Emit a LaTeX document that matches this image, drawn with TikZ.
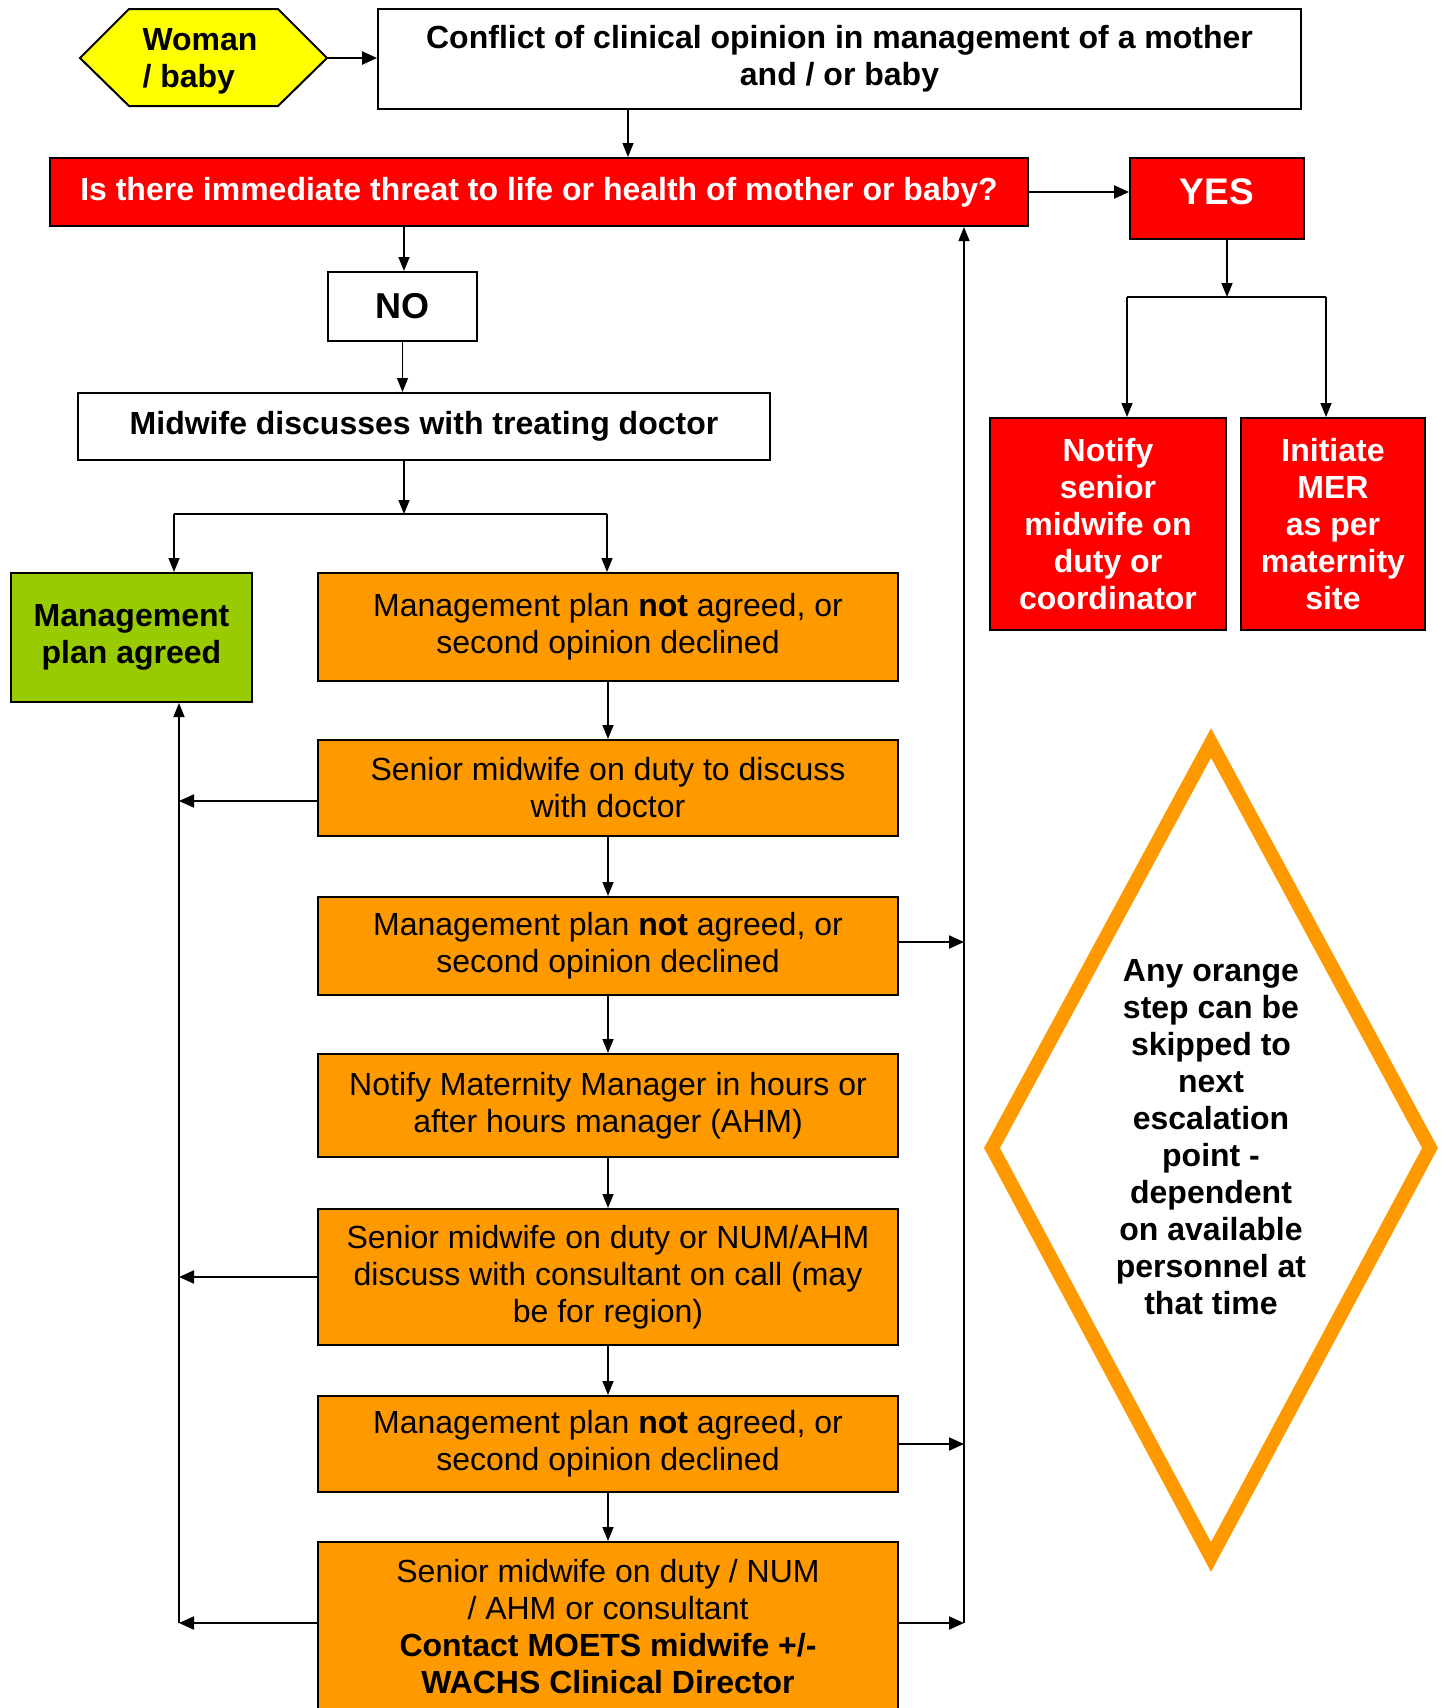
\documentclass[tikz,border=0pt]{standalone}
\usepackage{fontspec}
\setmainfont{Liberation Sans}
\usetikzlibrary{arrows.meta}
\definecolor{cyel}{HTML}{FFFF00}
\definecolor{cred}{HTML}{FF0000}
\definecolor{cgreen}{HTML}{99CC00}
\definecolor{corange}{HTML}{FF9900}
\newcommand{\fs}{\fontsize{32}{37}\selectfont}
\begin{document}
\begin{tikzpicture}[x=1pt,y=-1pt,
  base/.style={draw=black, line width=2pt, inner sep=0pt, align=center, font=\fs},
  whitebox/.style={base, fill=white, font=\bfseries\fs},
  redbox/.style={base, fill=cred, text=white, font=\bfseries\fs},
  orangebox/.style={base, fill=corange, minimum width=580pt},
  greenbox/.style={base, fill=cgreen, font=\bfseries\fs},
  arr/.style={-{Triangle[length=14pt,width=11pt]}, line width=1.5pt},
  medarr/.style={-{Triangle[length=15pt,width=13pt]}, line width=2pt},
  thickarr/.style={-{Triangle[length=15pt,width=13pt]}, line width=2.5pt},
  plain/.style={line width=1.5pt}]
\useasboundingbox (0,0) rectangle (1447,1708);
\clip (0,0) rectangle (1447,1708);
\fill[white] (0,0) rectangle (1447,1708);

% hexagon
\draw[fill=cyel, line width=2pt] (80,58) -- (129,9) -- (278,9) -- (327,58) -- (278,106) -- (129,106) -- cycle;
\coordinate (hexR) at (327,58);
\node[font=\bfseries\fs, align=left, inner sep=0pt] (woman) at (200,61) {Woman\\/ baby};

\node[whitebox, minimum width=923pt, minimum height=100pt] (conflict) at (839.5,59)
  {Conflict of clinical opinion in management of a mother\\and / or baby};
\node[redbox, minimum width=978pt, minimum height=68pt] (question) at (539,192)
  {Is there immediate threat to life or health of mother or baby?};
\node[redbox, minimum width=174pt, minimum height=81pt, font=\bfseries\fontsize{37}{40}\selectfont, text depth=13pt] (yes) at (1217,198.5) {YES};
\node[whitebox, minimum width=149pt, minimum height=69pt, font=\bfseries\fontsize{36}{40}\selectfont] (no) at (402.5,306.5) {NO};
\node[whitebox, minimum width=692pt, minimum height=67pt] (midwife) at (424,426.5)
  {Midwife discusses with treating doctor};
\node[greenbox, minimum width=241pt, minimum height=129pt] (green) at (131.5,637.5)
  {Management\\plan agreed};

\node[orangebox, minimum height=108pt] (o1) at (608,627)
  {Management plan \textbf{not} agreed, or\\second opinion declined};
\node[orangebox, minimum height=96pt] (o2) at (608,788)
  {Senior midwife on duty to discuss\\with doctor};
\node[orangebox, minimum height=98pt] (o3) at (608,946)
  {Management plan \textbf{not} agreed, or\\second opinion declined};
\node[orangebox, minimum height=103pt] (o4) at (608,1105.5)
  {Notify Maternity Manager in hours or\\after hours manager (AHM)};
\node[orangebox, minimum height=136pt] (o5) at (608,1277)
  {Senior midwife on duty or NUM/AHM\\discuss with consultant on call (may\\be for region)};
\node[orangebox, minimum height=96pt] (o6) at (608,1444)
  {Management plan \textbf{not} agreed, or\\second opinion declined};
\node[orangebox, minimum height=170pt] (o7) at (608,1627)
  {Senior midwife on duty / NUM\\/ AHM or consultant\\\textbf{Contact MOETS midwife +/-}\\\textbf{WACHS Clinical Director}};

\node[redbox, minimum width=236pt, minimum height=212pt] (notify) at (1108,524)
  {Notify\\senior\\midwife on\\duty or\\coordinator};
\node[redbox, minimum width=184pt, minimum height=212pt] (initiate) at (1333,524)
  {Initiate\\MER\\as per\\maternity\\site};

% diamond
\draw[corange, line width=14pt, miter limit=10, line join=miter] (1211,743) -- (1430,1148) -- (1211,1557) -- (992,1148) -- cycle;
\node[font=\bfseries\fs, align=center, inner sep=0pt] (note) at (1211,1137)
  {Any orange\\step can be\\skipped to\\next\\escalation\\point -\\dependent\\on available\\personnel at\\that time};

% helper coordinates
\coordinate (xa) at (628,0);
\coordinate (xno) at (404,0);
\coordinate (xm) at (404,514);
\coordinate (xg) at (174,514);
\coordinate (xbr) at (607,514);
\coordinate (yb) at (1227,297);
\coordinate (ybl) at (1127,297);
\coordinate (ybr) at (1326,297);
\coordinate (xl) at (179,1623);
\coordinate (xr) at (964,1623);

% connectors
\draw[thickarr] (hexR) -- (hexR -| conflict.west);
\draw[arr] (xa |- conflict.south) -- (xa |- question.north);
\draw[thickarr] (question.east) -- (question.east -| yes.west);
\draw[arr] (yb |- yes.south) -- (yb);
\draw[plain] (ybl) -- (ybr);
\draw[arr] (ybl) -- (ybl |- notify.north);
\draw[arr] (ybr) -- (ybr |- initiate.north);
\draw[arr] (xno |- question.south) -- (xno |- no.north);
\draw[arr] (no.south) -- (no.south |- midwife.north);
\draw[arr] (xm |- midwife.south) -- (xm);
\draw[plain] (xg) -- (xbr);
\draw[arr] (xg) -- (xg |- green.north);
\draw[arr] (xbr) -- (xbr |- o1.north);
\draw[arr] (o1.south) -- (o2.north);
\draw[arr] (o2.south) -- (o3.north);
\draw[arr] (o3.south) -- (o4.north);
\draw[arr] (o4.south) -- (o5.north);
\draw[arr] (o5.south) -- (o6.north);
\draw[arr] (o6.south) -- (o7.north);

\draw[arr] (xl) -- (xl |- green.south);
\draw[medarr] ([yshift=-13pt]o2.west) -- ([yshift=-13pt]o2.west -| xl);
\draw[medarr] (o5.west) -- (o5.west -| xl);
\draw[medarr] (o7.west |- xl) -- (xl);

\draw[arr] (xr) -- (xr |- question.south);
\draw[medarr] ([yshift=4pt]o3.east) -- ([yshift=4pt]o3.east -| xr);
\draw[medarr] (o6.east) -- (o6.east -| xr);
\draw[medarr] (o7.east |- xr) -- (xr);
\end{tikzpicture}
\end{document}
